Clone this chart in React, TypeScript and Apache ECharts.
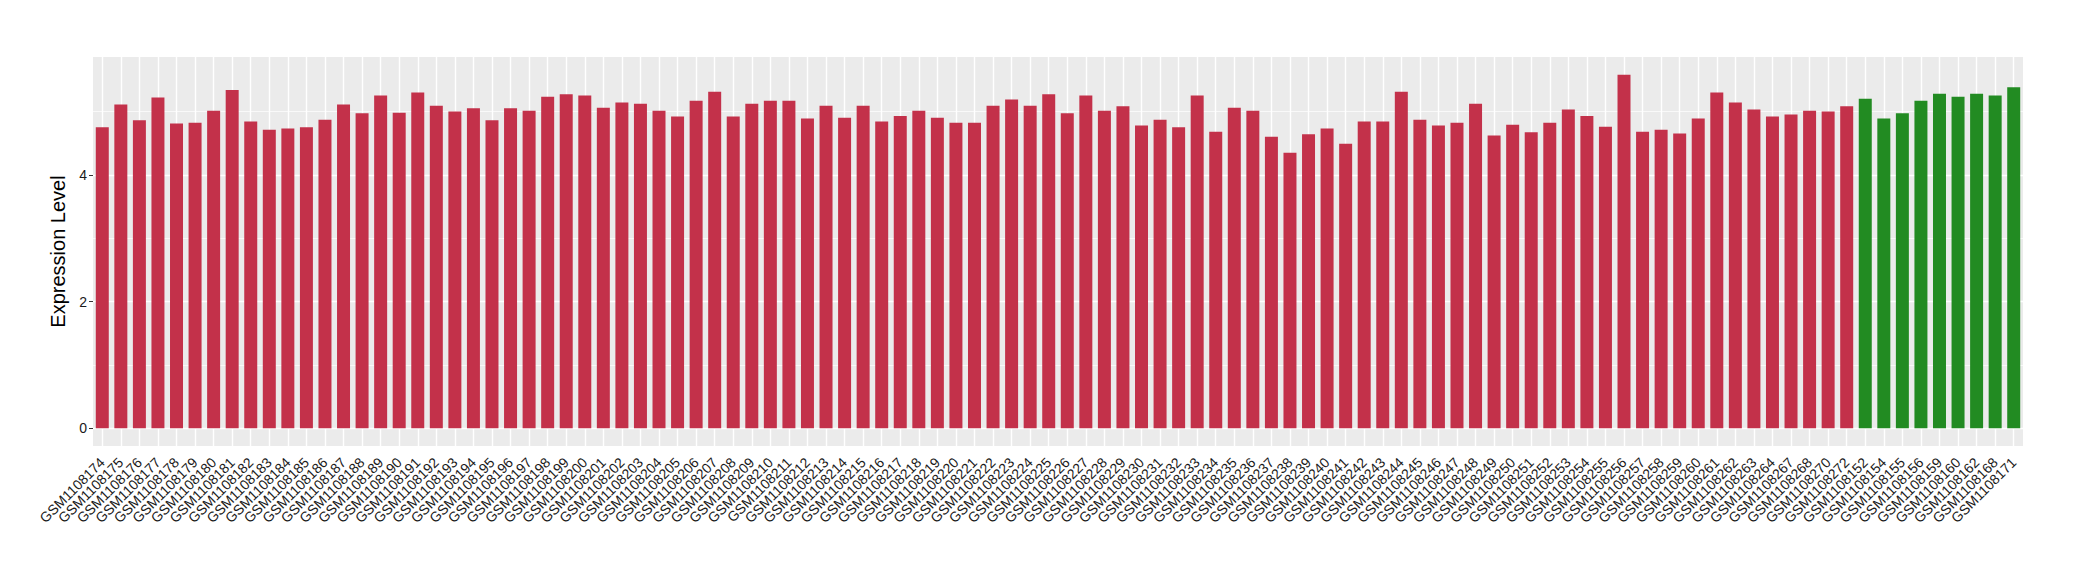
import React, { useEffect, useRef } from "react";
import * as echarts from "echarts";

const tumorSamples = [
  "GSM1108174", "GSM1108175", "GSM1108176", "GSM1108177", "GSM1108178", "GSM1108179", "GSM1108180", "GSM1108181",
  "GSM1108182", "GSM1108183", "GSM1108184", "GSM1108185", "GSM1108186", "GSM1108187", "GSM1108188", "GSM1108189",
  "GSM1108190", "GSM1108191", "GSM1108192", "GSM1108193", "GSM1108194", "GSM1108195", "GSM1108196", "GSM1108197",
  "GSM1108198", "GSM1108199", "GSM1108200", "GSM1108201", "GSM1108202", "GSM1108203", "GSM1108204", "GSM1108205",
  "GSM1108206", "GSM1108207", "GSM1108208", "GSM1108209", "GSM1108210", "GSM1108211", "GSM1108212", "GSM1108213",
  "GSM1108214", "GSM1108215", "GSM1108216", "GSM1108217", "GSM1108218", "GSM1108219", "GSM1108220", "GSM1108221",
  "GSM1108222", "GSM1108223", "GSM1108224", "GSM1108225", "GSM1108226", "GSM1108227", "GSM1108228", "GSM1108229",
  "GSM1108230", "GSM1108231", "GSM1108232", "GSM1108233", "GSM1108234", "GSM1108235", "GSM1108236", "GSM1108237",
  "GSM1108238", "GSM1108239", "GSM1108240", "GSM1108241", "GSM1108242", "GSM1108243", "GSM1108244", "GSM1108245",
  "GSM1108246", "GSM1108247", "GSM1108248", "GSM1108249", "GSM1108250", "GSM1108251", "GSM1108252", "GSM1108253",
  "GSM1108254", "GSM1108255", "GSM1108256", "GSM1108257", "GSM1108258", "GSM1108259", "GSM1108260", "GSM1108261",
  "GSM1108262", "GSM1108263", "GSM1108264", "GSM1108267", "GSM1108268", "GSM1108270", "GSM1108272",
];

const tumorValues = [
  4.75, 5.11, 4.86, 5.22, 4.81, 4.82, 5.01, 5.34,
  4.84, 4.71, 4.73, 4.75, 4.87, 5.11, 4.97, 5.25,
  4.98, 5.30, 5.09, 5.00, 5.05, 4.86, 5.05, 5.01,
  5.23, 5.27, 5.25, 5.06, 5.14, 5.12, 5.01, 4.92,
  5.17, 5.31, 4.92, 5.12, 5.17, 5.17, 4.89, 5.09,
  4.90, 5.09, 4.84, 4.93, 5.01, 4.90, 4.82, 4.82,
  5.09, 5.19, 5.09, 5.27, 4.97, 5.25, 5.01, 5.08,
  4.78, 4.87, 4.75, 5.25, 4.68, 5.06, 5.01, 4.60,
  4.35, 4.64, 4.73, 4.49, 4.84, 4.84, 5.31, 4.87,
  4.78, 4.82, 5.12, 4.62, 4.79, 4.67, 4.82, 5.03,
  4.93, 4.76, 5.58, 4.68, 4.71, 4.65, 4.89, 5.30,
  5.14, 5.03, 4.92, 4.95, 5.01, 5.00, 5.08,
];

const normalSamples = [
  "GSM1108152", "GSM1108154", "GSM1108155", "GSM1108156", "GSM1108159",
  "GSM1108160", "GSM1108162", "GSM1108168", "GSM1108171",
];

const normalValues = [5.20, 4.89, 4.97, 5.17, 5.28, 5.23, 5.28, 5.25, 5.38];

const yTickValues = [0, 2, 4];
const yMinorValues = [1, 3, 5];
const yTitle = "Expression Level";

const RED = "#C3314A";
const GREEN = "#228B22";
const FONT = "'Liberation Sans', Arial, Helvetica, sans-serif";

export default function App() {
  const ref = useRef<HTMLDivElement>(null);

  useEffect(() => {
    if (!ref.current) return;
    const chart = echarts.init(ref.current, null, { renderer: "svg" });

    const categories = [...tumorSamples, ...normalSamples];
    const values = [...tumorValues, ...normalValues];
    const colors = categories.map((_, i) => (i < tumorSamples.length ? RED : GREEN));
    const maxV = Math.max(...values);
    const pad = 0.05 * maxV;

    const gridLines: any[] = [
      ...categories.map((c) => ({ xAxis: c, lineStyle: { color: "#FFFFFF", width: 1.4, type: "solid" } })),
      ...yTickValues.map((v) => ({ yAxis: v, lineStyle: { color: "#FFFFFF", width: 1.4, type: "solid" } })),
      ...yMinorValues.map((v) => ({ yAxis: v, lineStyle: { color: "#FFFFFF", width: 0.7, type: "solid" } })),
    ];

    chart.setOption({
      animation: false,
      backgroundColor: "#FFFFFF",
      textStyle: { fontFamily: FONT },
      grid: {
        left: 93,
        top: 57,
        width: 1930,
        height: 389,
        show: true,
        backgroundColor: "#EBEBEB",
        borderWidth: 0,
      },
      xAxis: {
        type: "category",
        data: categories,
        boundaryGap: true,
        axisLine: { show: false },
        axisTick: { show: true, alignWithLabel: true, length: 4, lineStyle: { color: "#333333", width: 1 } },
        axisLabel: {
          interval: 0,
          rotate: 45,
          fontSize: 14,
          fontFamily: FONT,
          color: "#1A1A1A",
          margin: 14,
        },
        splitLine: { show: false },
      },
      yAxis: {
        type: "value",
        min: -pad,
        max: maxV + pad,
        axisLine: { show: false },
        axisTick: { show: true, length: 4, customValues: yTickValues, lineStyle: { color: "#333333", width: 1 } },
        axisLabel: {
          customValues: yTickValues,
          fontSize: 14,
          fontFamily: FONT,
          color: "#1A1A1A",
          margin: 6,
          formatter: (v: number) => (yTickValues.includes(v) ? String(v) : ""),
        },
        splitLine: { show: false },
        name: yTitle,
        nameLocation: "middle",
        nameGap: 17,
        nameTextStyle: { fontSize: 20, color: "#000000", fontFamily: FONT },
      },
      series: [
        {
          type: "bar",
          z: 3,
          barWidth: "70%",
          data: values.map((v, i) => ({ value: v, itemStyle: { color: colors[i] } })),
          markLine: {
            silent: true,
            z: 1,
            symbol: ["none", "none"],
            label: { show: false },
            emphasis: { disabled: true },
            animation: false,
            data: gridLines,
          },
        },
      ],
    });

    return () => chart.dispose();
  }, []);

  return (
    <div
      ref={ref}
      style={{ position: "fixed", left: 0, top: 0, width: "2080px", height: "580px" }}
    />
  );
}
